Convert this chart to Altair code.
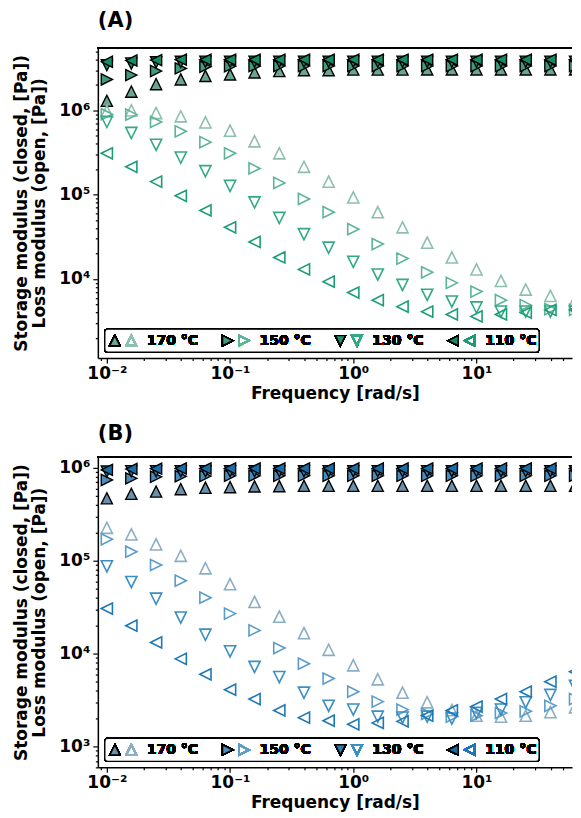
import altair as alt
import pandas as pd

# ---------------- data ----------------
freq = [0.01, 0.0158, 0.0251, 0.0398, 0.0631, 0.1, 0.158, 0.251, 0.398, 0.631,
        1.0, 1.58, 2.51, 3.98, 6.31, 10.0, 15.8, 25.1, 39.8, 63.1]
temps = ["170 °C", "150 °C", "130 °C", "110 °C"]

# Panel A  (storage = closed/filled, loss = open)
a_storage = {
    "170 °C": [1.3e6, 1.67e6, 2.05e6, 2.33e6, 2.56e6, 2.67e6, 2.82e6, 2.93e6, 3.0e6, 3.0e6,
               3.05e6, 3.05e6, 3.05e6, 3.06e6, 3.06e6, 3.06e6, 3.06e6, 3.06e6, 3.06e6, 3.06e6],
    "150 °C": [2.33e6, 2.62e6, 2.93e6, 3.15e6, 3.3e6, 3.33e6, 3.35e6, 3.36e6, 3.36e6, 3.36e6,
               3.36e6, 3.36e6, 3.36e6, 3.36e6, 3.36e6, 3.36e6, 3.36e6, 3.36e6, 3.36e6, 3.36e6],
    "130 °C": [3.44e6, 3.6e6, 3.72e6, 3.76e6, 3.78e6, 3.78e6, 3.78e6, 3.78e6, 3.78e6, 3.78e6,
               3.78e6, 3.78e6, 3.78e6, 3.78e6, 3.78e6, 3.78e6, 3.78e6, 3.78e6, 3.78e6, 3.78e6],
    "110 °C": [3.77e6, 3.9e6, 3.95e6, 4.0e6, 4.0e6, 4.0e6, 4.0e6, 4.0e6, 4.0e6, 4.0e6,
               4.0e6, 4.0e6, 4.0e6, 4.0e6, 4.0e6, 4.0e6, 4.0e6, 4.0e6, 4.0e6, 4.0e6],
}
a_loss = {
    "170 °C": [9.8e5, 1.0e6, 9.3e5, 8.5e5, 7.2e5, 5.75e5, 4.3e5, 3.1e5, 2.14e5, 1.43e5,
               9.3e4, 6.2e4, 4.1e4, 2.7e4, 1.8e4, 1.3e4, 9.5e3, 7.5e3, 6.3e3, 5.6e3],
    "150 °C": [9.0e5, 8.9e5, 7.3e5, 5.65e5, 4.2e5, 3.1e5, 2.05e5, 1.38e5, 8.9e4, 6.2e4,
               3.9e4, 2.6e4, 1.75e4, 1.2e4, 9.0e3, 7.1e3, 5.6e3, 4.9e3, 4.4e3, 4.3e3],
    "130 °C": [7.3e5, 5.4e5, 3.9e5, 2.75e5, 1.9e5, 1.27e5, 8.1e4, 5.3e4, 3.4e4, 2.35e4,
               1.6e4, 1.13e4, 8.5e3, 6.5e3, 5.4e3, 4.6e3, 4.1e3, 4.1e3, 4.1e3, 4.1e3],
    "110 °C": [3.1e5, 2.14e5, 1.43e5, 9.7e4, 6.5e4, 4.1e4, 2.75e4, 1.8e4, 1.3e4, 9.3e3,
               6.9e3, 5.6e3, 4.7e3, 4.1e3, 3.8e3, 3.6e3, 3.8e3, 4.0e3, 4.3e3, 4.3e3],
}

# Panel B
b_storage = {
    "170 °C": [4.7e5, 5.25e5, 5.55e5, 5.9e5, 6.1e5, 6.2e5, 6.3e5, 6.35e5, 6.4e5, 6.4e5,
               6.4e5, 6.4e5, 6.4e5, 6.4e5, 6.4e5, 6.4e5, 6.4e5, 6.4e5, 6.4e5, 6.4e5],
    "150 °C": [7.4e5, 7.7e5, 8.0e5, 8.1e5, 8.15e5, 8.2e5, 8.2e5, 8.2e5, 8.2e5, 8.2e5,
               8.2e5, 8.2e5, 8.2e5, 8.2e5, 8.2e5, 8.2e5, 8.2e5, 8.2e5, 8.2e5, 8.2e5],
    "130 °C": [9.1e5, 9.2e5, 9.2e5, 9.2e5, 9.2e5, 9.2e5, 9.2e5, 9.2e5, 9.2e5, 9.2e5,
               9.2e5, 9.2e5, 9.2e5, 9.2e5, 9.2e5, 9.2e5, 9.2e5, 9.2e5, 9.2e5, 9.2e5],
    "110 °C": [9.5e5, 9.7e5, 9.8e5, 9.85e5, 9.85e5, 9.85e5, 9.85e5, 9.85e5, 9.85e5, 9.85e5,
               9.85e5, 9.85e5, 9.85e5, 9.85e5, 9.85e5, 9.85e5, 9.85e5, 9.85e5, 9.85e5, 9.85e5],
}
b_loss = {
    "170 °C": [2.26e5, 1.92e5, 1.5e5, 1.13e5, 8.3e4, 5.6e4, 3.6e4, 2.5e4, 1.66e4, 1.1e4,
               7.5e3, 5.3e3, 3.8e3, 3.0e3, 2.47e3, 2.15e3, 2.1e3, 2.15e3, 2.35e3, 2.65e3],
    "150 °C": [1.7e5, 1.25e5, 9.0e4, 6.1e4, 4.0e4, 2.7e4, 1.78e4, 1.15e4, 7.8e3, 5.4e3,
               3.9e3, 3.05e3, 2.5e3, 2.25e3, 2.1e3, 2.15e3, 2.3e3, 2.4e3, 2.75e3, 3.25e3],
    "130 °C": [8.7e4, 5.9e4, 3.9e4, 2.45e4, 1.6e4, 1.06e4, 7.2e3, 5.6e3, 3.8e3, 2.75e3,
               2.5e3, 2.1e3, 2.05e3, 2.1e3, 2.0e3, 2.3e3, 2.5e3, 3.0e3, 3.6e3, 4.5e3],
    "110 °C": [3.06e4, 2.0e4, 1.32e4, 8.8e3, 6.0e3, 4.1e3, 3.25e3, 2.45e3, 2.05e3, 1.9e3,
               1.74e3, 1.8e3, 1.87e3, 2.15e3, 2.45e3, 2.7e3, 3.25e3, 3.9e3, 5.0e3, 6.4e3],
}

a_fill = ["#6aa592", "#3f9b7d", "#24926f", "#178a68"]
a_open = ["#8cc0ac", "#5db597", "#34a985", "#1b9e77"]
b_fill = ["#6b8fa8", "#4a8cbc", "#2b80b8", "#1a6ea8"]
b_open = ["#8aaec4", "#5b9dc9", "#3a8fc4", "#1f78b4"]

shapes = ["M0,-1L-1,1L1,1Z", "M1,0L-1,-1L-1,1Z", "M0,1L-1,-1L1,-1Z", "M-1,0L1,-1L1,1Z"]

x_major = [0.01, 0.1, 1.0, 10.0]
x_major_lbl = ["10⁻²", "10⁻¹", "10⁰", "10¹"]
y_major = [1000.0, 10000.0, 100000.0, 1000000.0]
y_major_lbl = ["10³", "10⁴", "10⁵", "10⁶"]

x_domain = [0.00845, 59.6]
a_y_domain = [1153, 5.55e6]
b_y_domain = [598, 1.31e6]

W = 475
H = 311
FONT = "DejaVu Sans"


def minor_ticks(lo, hi):
    out = []
    for e in range(-3, 8):
        for m in range(1, 10):
            v = float(m) * (10.0 ** e)
            v = float(f"{v:.10g}")
            if lo <= v <= hi:
                out.append(v)
    return out


def label_expr(vals, lbls):
    s = "''"
    for v, l in zip(reversed(vals), reversed(lbls)):
        s = f"abs(datum.value - {v}) < {v * 1e-6} ? '{l}' : " + s
    return s


def tick_cond(vals):
    arr = ",".join(str(v) for v in vals)
    return {"condition": {"test": f"indexof([{arr}], datum.value) >= 0", "value": 5}, "value": 2.5}


def frame(storage, loss):
    rows = []
    for t in temps:
        for f, v in zip(freq, storage[t]):
            rows.append({"freq": f, "val": v, "temp": t, "kind": "storage"})
        for f, v in zip(freq, loss[t]):
            rows.append({"freq": f, "val": v, "temp": t, "kind": "loss"})
    return pd.DataFrame(rows)


def panel(storage, loss, y_domain, fills, opens, title):
    df = frame(storage, loss)
    xs = alt.Scale(type="log", domain=x_domain, nice=False)
    ys = alt.Scale(type="log", domain=y_domain, nice=False)
    shp = alt.Shape("temp:N", scale=alt.Scale(domain=temps, range=shapes), legend=None)
    xticks = minor_ticks(x_domain[0], x_domain[1])
    yticks = minor_ticks(y_domain[0], y_domain[1])
    x_enc = alt.X("freq:Q", scale=xs,
                  axis=alt.Axis(values=xticks, labelExpr=label_expr(x_major, x_major_lbl),
                                tickSize=tick_cond(x_major), title="Frequency [rad/s]",
                                labelFlush=False, labelOverlap=False, labelPadding=2,
                                titlePadding=4))
    y_enc = alt.Y("val:Q", scale=ys,
                  axis=alt.Axis(values=yticks, labelExpr=label_expr(y_major, y_major_lbl),
                                tickSize=tick_cond(y_major),
                                title=["Storage modulus (closed, [Pa])", "Loss modulus (open, [Pa])"],
                                labelFlush=False, labelOverlap=False, labelPadding=3,
                                titlePadding=10, titleLineHeight=18))
    base = alt.Chart(df)
    filled = base.transform_filter(alt.datum.kind == "storage").mark_point(
        filled=True, size=125, stroke="black", strokeWidth=1.4, opacity=1, clip=True
    ).encode(x=x_enc, y=y_enc, shape=shp,
             fill=alt.Fill("temp:N", scale=alt.Scale(domain=temps, range=fills), legend=None))
    hollow = base.transform_filter(alt.datum.kind == "loss").mark_point(
        filled=False, size=125, strokeWidth=1.6, opacity=1, clip=True
    ).encode(x=x_enc, y=y_enc, shape=shp,
             stroke=alt.Stroke("temp:N", scale=alt.Scale(domain=temps, range=opens), legend=None))

    top = alt.Chart(df).mark_rule(color="black", strokeWidth=1.5).encode(
        x=alt.value(0), x2=alt.value(W), y=alt.value(0))

    layers = [filled, hollow, top]
    # legend box
    layers.append(alt.Chart(df).mark_rect(fill="white", stroke="black", strokeWidth=1.3,
                                          cornerRadius=3).encode(
        x=alt.value(7), x2=alt.value(442), y=alt.value(H - 29), y2=alt.value(H - 6)))
    ly = H - 17.5
    for i, t in enumerate(temps):
        x0 = 17 + i * 113
        layers.append(alt.Chart(df).mark_point(shape=shapes[i], filled=True, size=100,
                                               fill=fills[i], stroke="black", strokeWidth=1.4,
                                               opacity=1).encode(x=alt.value(x0), y=alt.value(ly)))
        layers.append(alt.Chart(df).mark_point(shape=shapes[i], filled=False, size=100,
                                               stroke=opens[i], strokeWidth=1.6,
                                               opacity=1).encode(x=alt.value(x0 + 16.5), y=alt.value(ly)))
        layers.append(alt.Chart(df).mark_text(text=t, align="left", baseline="middle", font=FONT,
                                              fontSize=14, fontWeight="bold", color="black").encode(
            x=alt.value(x0 + 32), y=alt.value(ly + 0.5)))
    return alt.layer(*layers).properties(
        width=W, height=H,
        title=alt.Title(title, anchor="start", frame="group", fontSize=21, fontWeight="bold",
                        font=FONT, offset=12, color="black"))


pa = panel(a_storage, a_loss, a_y_domain, a_fill, a_open, "(A)")
pb = panel(b_storage, b_loss, b_y_domain, b_fill, b_open, "(B)")

chart = alt.vconcat(pa, pb, spacing=22).resolve_scale(
    fill="independent", stroke="independent", x="independent", y="independent"
).properties(
    padding={"left": 4, "top": 0, "right": 0, "bottom": 1}
).configure_view(stroke=None).configure_axis(
    domainColor="black", domainWidth=1.5, tickColor="black", tickWidth=1.2, grid=False,
    labelFont=FONT, labelFontSize=17, labelFontWeight="bold", labelColor="black",
    titleFont=FONT, titleFontSize=17, titleFontWeight="bold", titleColor="black"
)

chart.save("out.html", embed_options={"renderer": "svg", "actions": False})
